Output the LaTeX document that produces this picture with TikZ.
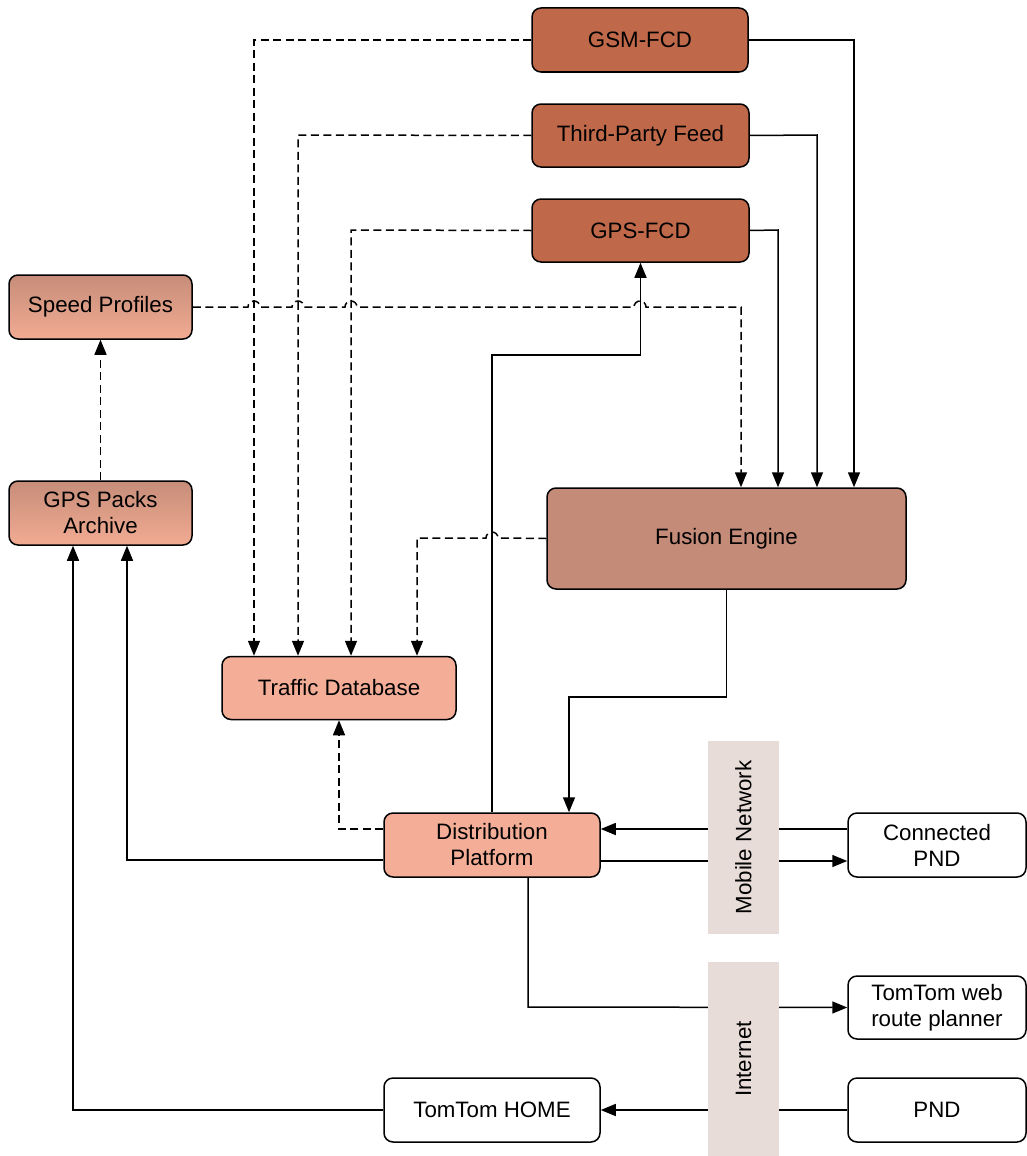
\documentclass[tikz,border=0pt]{standalone}
\usepackage{fontspec}
\setmainfont{Liberation Sans}
\usetikzlibrary{arrows.meta,calc}
\definecolor{srcc}{HTML}{C0694A}
\definecolor{fusc}{HTML}{C38B78}
\definecolor{salc}{HTML}{F4AE97}
\definecolor{gtop}{HTML}{C68D79}
\definecolor{gbot}{HTML}{F2AB93}
\definecolor{bandc}{HTML}{E8DCD8}
\begin{document}
\begin{tikzpicture}[x=1pt,y=-1pt,
  box/.style={draw=black, line width=1.5pt, rounded corners=9pt, inner sep=0pt,
    align=center, font=\fontsize{22.3}{26}\selectfont},
  srcbox/.style={box, fill=srcc},
  gradbox/.style={box, top color=gtop, bottom color=gbot},
  salbox/.style={box, fill=salc},
  whitebox/.style={box, fill=white},
  conn/.style={line width=1.5pt, -{Triangle[length=15pt,width=12pt]}},
  dconn/.style={conn, dash pattern=on 8pt off 4.5pt},
  bandtext/.style={rotate=90, font=\fontsize{22.3}{26}\selectfont},
]
\useasboundingbox (0,0) rectangle (1027,1156);

% nodes
\node[srcbox, minimum width=216pt, minimum height=64pt] (gsm) at (640,40) {GSM-FCD};
\node[srcbox, minimum width=217pt, minimum height=63pt] (tpf) at (640.5,135.5) {Third-Party Feed};
\node[srcbox, minimum width=217pt, minimum height=63pt] (gps) at (640.5,230.5) {GPS-FCD};
\node[gradbox, minimum width=183pt, minimum height=64pt] (sp) at (100.5,307) {Speed Profiles};
\node[gradbox, minimum width=183pt, minimum height=64pt] (gpa) at (100.5,513) {GPS Packs\\Archive};
\node[box, fill=fusc, minimum width=359pt, minimum height=101pt] (fe) at (726.5,538.5) {Fusion Engine};
\node[salbox, minimum width=234pt, minimum height=63pt] (tdb) at (339,688) {Traffic Database};
\node[salbox, minimum width=216pt, minimum height=64pt] (dp) at (492,845) {Distribution\\Platform};
\node[whitebox, minimum width=178pt, minimum height=64pt] (cpnd) at (937,845) {Connected\\PND};
\node[whitebox, minimum width=178pt, minimum height=63pt] (web) at (937,1007.5) {TomTom web\\route planner};
\node[whitebox, minimum width=178pt, minimum height=64pt] (pnd) at (937,1110) {PND};
\node[whitebox, minimum width=216pt, minimum height=64pt] (home) at (492,1110) {TomTom HOME};

% bend coordinates
\coordinate (xa) at (254,40);
\coordinate (xb) at (298,135);
\coordinate (xc) at (351,230);
\coordinate (xd) at (417,538);
\coordinate (xe) at (741,307);
\coordinate (xf) at (854,40);
\coordinate (xg) at (817,135);
\coordinate (xh) at (778,230);
\coordinate (xi) at (569,697);
\coordinate (xj) at (339,829);
\coordinate (xk) at (127,860);
\coordinate (xl) at (73,1110);
\coordinate (xm) at (528,1007);

% dashed connectors into Traffic Database
\draw[dconn] (gsm.west) -- (xa) -- (tdb.north -| xa);
\draw[dconn] (tpf.west) -- (xb) -- (tdb.north -| xb);
\draw[dconn] (gps.west) -- (xc) -- (tdb.north -| xc);
\draw[dconn] (fe.west) -- (498,538) arc[start angle=0,end angle=180,radius=6pt] -- (xd) -- (tdb.north -| xd);

% Speed Profiles -> Fusion Engine with hops
\draw[dconn] (sp.east) -- (248,307) arc[start angle=180,end angle=0,radius=6pt]
  -- (292,307) arc[start angle=180,end angle=0,radius=6pt]
  -- (345,307) arc[start angle=180,end angle=0,radius=6pt]
  -- (634,307) arc[start angle=180,end angle=0,radius=6pt]
  -- (xe) -- (fe.north -| xe);

% GPS Packs -> Speed Profiles
\draw[dconn] (gpa.north) -- (sp.south);

% sources -> Fusion Engine
\draw[conn] (gsm.east) -- (xf) -- (fe.north -| xf);
\draw[conn] (tpf.east) -- (xg) -- (fe.north -| xg);
\draw[conn] (gps.east) -- (xh) -- (fe.north -| xh);

% Fusion -> Distribution
\draw[conn] (fe.south) |- (xi) -- (dp.north -| xi);

% Distribution -> GPS-FCD
\draw[conn] (dp.north) -- (492,355) -| (gps.south);

% Distribution -> Traffic Database (dashed)
\draw[dconn] (dp.west |- xj) -- (xj) -- (tdb.south -| xj);

% Distribution -> GPS Packs
\draw[conn] (dp.west |- xk) -- (xk) -- (gpa.south -| xk);

% Distribution <-> Connected PND
\draw[conn] (cpnd.west |- 0,829) -- (dp.east |- 0,829);
\draw[conn] (dp.east |- 0,861) -- (cpnd.west |- 0,861);

% Distribution -> TomTom web
\draw[conn] (dp.south -| xm) -- (xm) -- (web.west);

% PND -> TomTom HOME
\draw[conn] (pnd.west) -- (home.east);

% TomTom HOME -> GPS Packs
\draw[conn] (home.west) -- (xl) -- (gpa.south -| xl);

% network bands (on top of lines)
\fill[bandc] (708,741) rectangle (779,934);
\node[bandtext] (mn) at (743.5,837.5) {Mobile Network};
\fill[bandc] (708,962) rectangle (779,1156);
\node[bandtext] (inet) at (743.5,1059) {Internet};
\end{tikzpicture}
\end{document}
